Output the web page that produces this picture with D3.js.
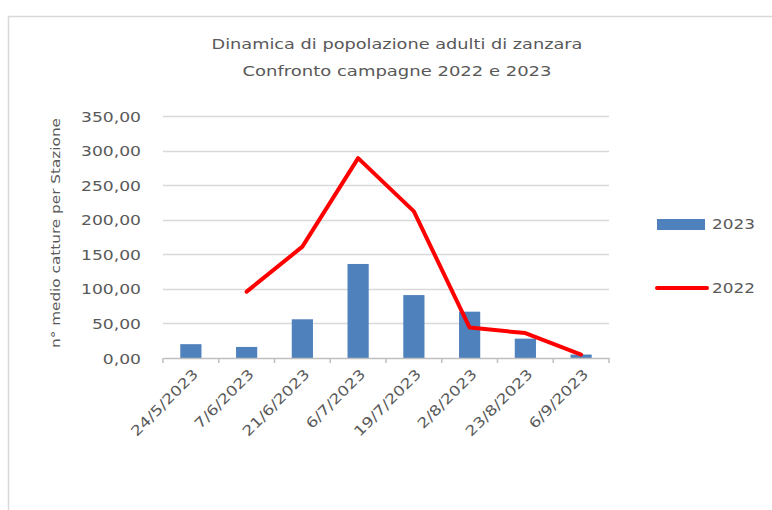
<!DOCTYPE html>
<html>
<head>
<meta charset="utf-8">
<script src="https://cdn.jsdelivr.net/npm/d3@7"></script>
<style>
  html, body { margin: 0; padding: 0; background: #fff; }
  svg { display: block; }
  text { font-family: "DejaVu Sans", "Liberation Sans", sans-serif; fill: #595959; }
</style>
</head>
<body>
<svg id="chart" width="772" height="510"></svg>
<script>
// Campionamenti (date) e medie catture per stazione
const categories = ["24/5/2023", "7/6/2023", "21/6/2023", "6/7/2023", "19/7/2023", "2/8/2023", "23/8/2023", "6/9/2023"];
const values2023 = [20, 16, 56, 136, 91, 67, 28, 5];
const values2022 = [null, 96, 161, 289, 212, 44, 36, 5];
const yTicks = [0, 50, 100, 150, 200, 250, 300, 350];
const titleLines = ["Dinamica di popolazione adulti di zanzara", "Confronto campagne 2022 e 2023"];
const yAxisTitle = "n° medio catture per Stazione";
const seriesNames = ["2023", "2022"];

const svg = d3.select("#chart");
const fmt = v => d3.format(".2f")(v).replace(".", ",");

// area di disegno
const plot = { left: 163, right: 609, top: 116, bottom: 358 };

// stretch text horizontally to a given width
function fitWidth(sel, w) {
  sel.attr("textLength", w).attr("lengthAdjust", "spacingAndGlyphs");
}

// cornice
svg.append("rect")
  .attr("x", 8.5).attr("y", 16.5)
  .attr("width", 820).attr("height", 600)
  .attr("fill", "#fff").attr("stroke", "#d9d9d9").attr("stroke-width", 1.5);

const x = d3.scaleBand().domain(categories).range([plot.left, plot.right]).padding(0);
const y = d3.scaleLinear().domain([0, 350]).range([plot.bottom, plot.top]);

// griglia orizzontale
svg.append("g")
  .selectAll("line")
  .data(yTicks.filter(t => t > 0))
  .join("line")
  .attr("x1", plot.left).attr("x2", plot.right)
  .attr("y1", d => Math.round(y(d)) + 0.5).attr("y2", d => Math.round(y(d)) + 0.5)
  .attr("stroke", "#d9d9d9").attr("stroke-width", 1.5);

// asse Y
const yAxis = svg.append("g")
  .attr("transform", `translate(${plot.left - 22},0)`)
  .call(d3.axisLeft(y).tickValues(yTicks).tickFormat(fmt).tickSize(0).tickPadding(0));
yAxis.select(".domain").remove();
yAxis.selectAll("text")
  .attr("font-size", 14)
  .attr("font-family", "DejaVu Sans")
  .attr("fill", "#595959")
  .attr("dy", "0.36em");
const k = 60 / yAxis.selectAll("text").filter(d => d === 350).node().getComputedTextLength();
yAxis.selectAll("text").each(function () {
  const n = this.getComputedTextLength();
  fitWidth(d3.select(this), n * k);
});

// barre 2023
const barW = x.bandwidth() * 0.38;
svg.append("g")
  .selectAll("rect")
  .data(categories.map((c, i) => ({ c, v: values2023[i] })))
  .join("rect")
  .attr("x", d => x(d.c) + (x.bandwidth() - barW) / 2)
  .attr("y", d => y(d.v))
  .attr("width", barW)
  .attr("height", d => y(0) - y(d.v))
  .attr("fill", "#4f81bd");

// asse X
const xAxis = svg.append("g")
  .attr("transform", `translate(0,${plot.bottom})`)
  .call(d3.axisBottom(x).tickSize(0).tickPadding(0));
xAxis.select(".domain").attr("stroke", "#bfbfbf").attr("stroke-width", 1.5);
xAxis.selectAll(".tick line").remove();
// tacche ai confini delle categorie
svg.append("g")
  .selectAll("line")
  .data(d3.range(categories.length + 1))
  .join("line")
  .attr("x1", i => plot.left + i * x.step()).attr("x2", i => plot.left + i * x.step())
  .attr("y1", plot.bottom).attr("y2", plot.bottom + 5)
  .attr("stroke", "#bfbfbf").attr("stroke-width", 1.5);
xAxis.selectAll(".tick text")
  .attr("font-size", 14)
  .attr("font-family", "DejaVu Sans")
  .attr("fill", "#595959")
  .attr("text-anchor", "end")
  .attr("dy", 0)
  .attr("transform", "translate(8,17) rotate(-45)")
  .each(function () {
    const n = this.getComputedTextLength();
    fitWidth(d3.select(this), n * k);
  });

// linea 2022
const line = d3.line()
  .defined(d => d.v !== null)
  .x(d => x(d.c) + x.bandwidth() / 2)
  .y(d => y(d.v));
svg.append("path")
  .datum(categories.map((c, i) => ({ c, v: values2022[i] })))
  .attr("d", line)
  .attr("fill", "none")
  .attr("stroke", "#ff0000")
  .attr("stroke-width", 4)
  .attr("stroke-linejoin", "round")
  .attr("stroke-linecap", "round");

// titolo
const titleWidths = [371, 309];
svg.append("g")
  .selectAll("text")
  .data(titleLines)
  .join("text")
  .attr("x", 397).attr("y", (d, i) => 49 + i * 27)
  .attr("text-anchor", "middle")
  .attr("font-size", 14)
  .text(d => d)
  .each(function (d, i) { fitWidth(d3.select(this), titleWidths[i]); });

// titolo asse Y
svg.append("text")
  .attr("transform", "translate(60,233) rotate(-90)")
  .attr("text-anchor", "middle")
  .attr("font-size", 13)
  .text(yAxisTitle)
  .call(s => fitWidth(s, 230));

// legenda
const legend = svg.append("g");
legend.append("rect")
  .attr("x", 657).attr("y", 219).attr("width", 48).attr("height", 11)
  .attr("fill", "#4f81bd");
legend.append("line")
  .attr("x1", 657).attr("x2", 707).attr("y1", 288).attr("y2", 288)
  .attr("stroke", "#ff0000").attr("stroke-width", 4).attr("stroke-linecap", "round");
legend.selectAll("text.lg")
  .data(seriesNames)
  .join("text")
  .attr("class", "lg")
  .attr("x", 712).attr("y", (d, i) => (i === 0 ? 224 : 288))
  .attr("dy", "0.36em")
  .attr("font-size", 14)
  .text(d => d)
  .each(function () { fitWidth(d3.select(this), 43); });
</script>
</body>
</html>
